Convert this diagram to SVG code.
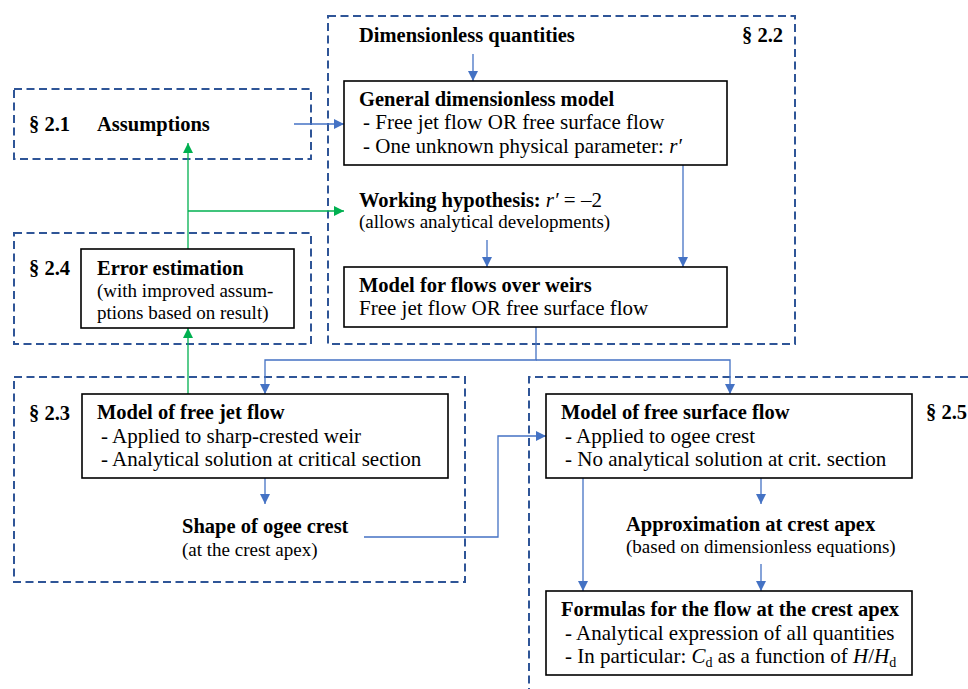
<svg xmlns="http://www.w3.org/2000/svg" width="968" height="689" viewBox="0 0 968 689">
<defs>
<style>
.sec{fill:none;stroke:#2F5597;stroke-width:2;stroke-dasharray:8 4.5}
.box{fill:#fff;stroke:#000;stroke-width:1.6}
text{font-family:"Liberation Serif","Times New Roman",serif;fill:#000}
.b{font-weight:bold;font-size:20.5px}
.r{font-size:21px}
.s{font-size:19px}
.blue{fill:none;stroke:#4472C4;stroke-width:1.3}
.green{fill:none;stroke:#00B050;stroke-width:1.3}
</style>
<marker id="ab" viewBox="0 0 10 10" refX="10" refY="5" markerWidth="10" markerHeight="10" markerUnits="userSpaceOnUse" orient="auto"><path d="M0,0 L10,5 L0,10 z" fill="#4472C4"/></marker>
<marker id="ag" viewBox="0 0 10 10" refX="10" refY="5" markerWidth="10" markerHeight="10" markerUnits="userSpaceOnUse" orient="auto"><path d="M0,0 L10,5 L0,10 z" fill="#00B050"/></marker>
</defs>
<rect width="968" height="689" fill="#fff"/>

<g id="sections">
<rect id="sec21" class="sec" x="14" y="89" width="297" height="70"/>
<rect id="sec22" class="sec" x="328" y="16" width="467" height="328"/>
<rect id="sec24" class="sec" x="14" y="233" width="297" height="111"/>
<rect id="sec23" class="sec" x="14" y="377" width="451" height="205"/>
<path id="sec25" class="sec" d="M968,377 H529 V689"/>
</g>

<g id="connectors">
<path class="blue" d="M473,54 V81" marker-end="url(#ab)"/>
<path class="blue" d="M294,124 H344" marker-end="url(#ab)"/>
<path class="blue" d="M683,165 V267" marker-end="url(#ab)"/>
<path class="blue" d="M487,240 V267" marker-end="url(#ab)"/>
<path class="blue" d="M536,327 V360 H265 V394" marker-end="url(#ab)"/>
<path class="blue" d="M536,360 H730 V394" marker-end="url(#ab)"/>
<path class="blue" d="M265,478 V504" marker-end="url(#ab)"/>
<path class="blue" d="M364,537 H498 V436 H546" marker-end="url(#ab)"/>
<path class="blue" d="M761,478 V504" marker-end="url(#ab)"/>
<path class="blue" d="M761,564 V591" marker-end="url(#ab)"/>
<path class="blue" d="M583,478 V591" marker-end="url(#ab)"/>
<path class="green" d="M188,394 V328" marker-end="url(#ag)"/>
<path class="green" d="M188,249 V143" marker-end="url(#ag)"/>
<path class="green" d="M188,211 H344" marker-end="url(#ag)"/>
</g>

<g id="n-assumptions">
<text class="b" x="29" y="131">§ 2.1</text>
<text class="b" x="97" y="131">Assumptions</text>
</g>

<g id="n-dimq">
<text class="b" x="359" y="42">Dimensionless quantities</text>
<text class="b" x="742" y="42">§ 2.2</text>
</g>

<g id="n-general">
<rect class="box" x="344" y="81" width="383" height="84"/>
<text class="b" x="359" y="106">General dimensionless model</text>
<text class="r" x="363" y="129">- Free jet flow OR free surface flow</text>
<text class="r" x="363" y="153">- One unknown physical parameter: <tspan font-style="italic">r′</tspan></text>
</g>

<g id="n-hypothesis">
<text x="359" y="207"><tspan class="b">Working hypothesis: </tspan><tspan class="r" font-style="italic">r′</tspan><tspan class="r"> = –2</tspan></text>
<text class="s" x="359" y="228">(allows analytical developments)</text>
</g>

<g id="n-weirs">
<rect class="box" x="344" y="267" width="383" height="60"/>
<text class="b" x="359" y="292">Model for flows over weirs</text>
<text class="r" x="359" y="315">Free jet flow OR free surface flow</text>
</g>

<g id="n-error">
<text class="b" x="29" y="275">§ 2.4</text>
<rect class="box" x="81" y="249" width="213" height="79"/>
<text class="b" x="97" y="275">Error estimation</text>
<text class="s" x="97" y="297">(with improved assum-</text>
<text class="s" x="97" y="319">ptions based on result)</text>
</g>

<g id="n-freejet">
<text class="b" x="29" y="420">§ 2.3</text>
<rect class="box" x="82" y="394" width="366" height="84"/>
<text class="b" x="97" y="419">Model of free jet flow</text>
<text class="r" x="101" y="443">- Applied to sharp-crested weir</text>
<text class="r" x="101" y="466">- Analytical solution at critical section</text>
</g>

<g id="n-shape">
<text class="b" x="182" y="533">Shape of ogee crest</text>
<text class="s" x="182" y="556">(at the crest apex)</text>
</g>

<g id="n-freesurface">
<text class="b" x="926" y="419">§ 2.5</text>
<rect class="box" x="546" y="394" width="366" height="84"/>
<text class="b" x="561" y="419">Model of free surface flow</text>
<text class="r" x="565" y="443">- Applied to ogee crest</text>
<text class="r" x="565" y="466">- No analytical solution at crit. section</text>
</g>

<g id="n-approx">
<text class="b" x="626" y="531">Approximation at crest apex</text>
<text class="s" x="626" y="553">(based on dimensionless equations)</text>
</g>

<g id="n-formulas">
<rect class="box" x="546" y="591" width="366" height="84"/>
<text class="b" x="561" y="616">Formulas for the flow at the crest apex</text>
<text class="r" x="565" y="640">- Analytical expression of all quantities</text>
<text class="r" x="565" y="663">- In particular: <tspan font-style="italic">C</tspan><tspan font-size="14" dy="4">d</tspan><tspan dy="-4"> as a function of </tspan><tspan font-style="italic">H</tspan>/<tspan font-style="italic">H</tspan><tspan font-size="14" dy="4">d</tspan></text>
</g>
</svg>
